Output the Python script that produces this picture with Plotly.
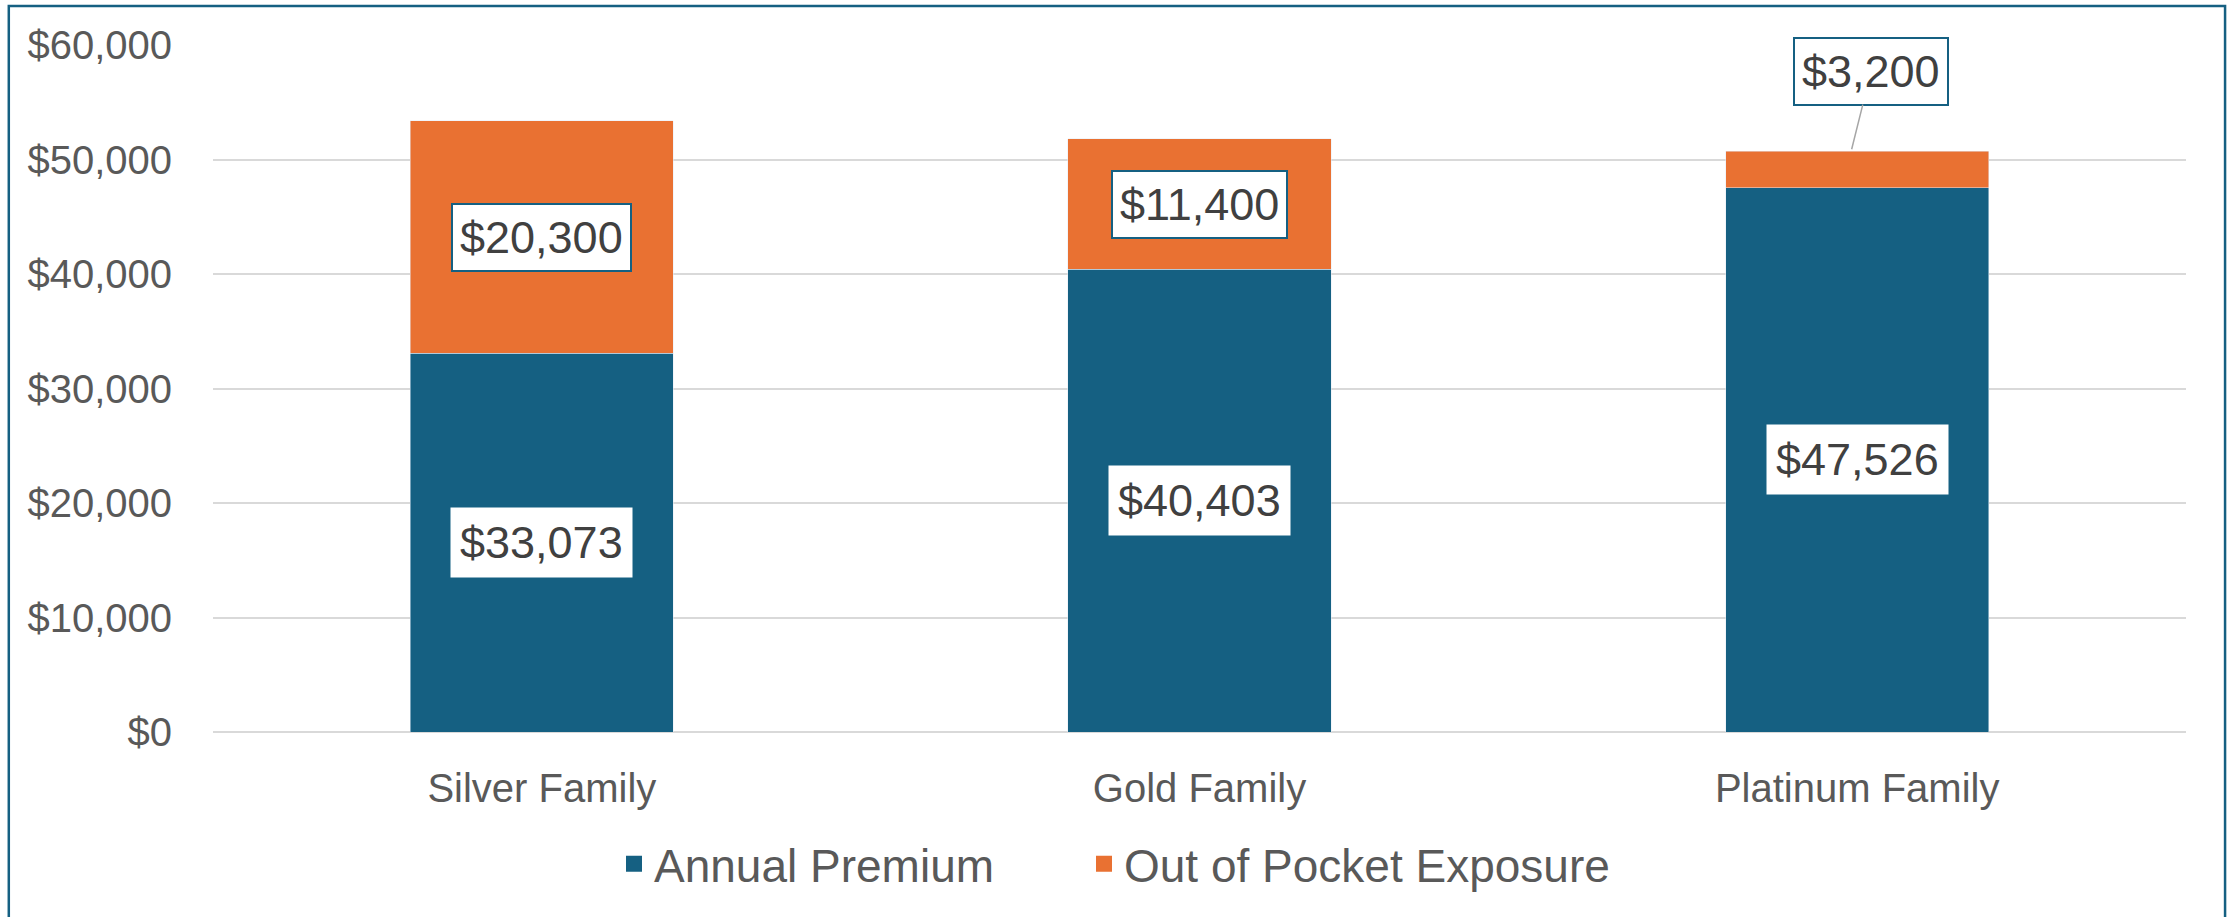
import plotly.graph_objects as go

categories = ["Silver Family", "Gold Family", "Platinum Family"]
annual_premium = [33073, 40403, 47526]
out_of_pocket = [20300, 11400, 3200]
y_ticks = [0, 10000, 20000, 30000, 40000, 50000, 60000]

BLUE = "#156082"
ORANGE = "#E97132"
GRAY = "#595959"
LABEL = "#404040"
FONT = "Liberation Sans, Arial, sans-serif"

fig = go.Figure()
fig.add_bar(x=categories, y=annual_premium, name="Annual Premium",
            marker_color=BLUE, showlegend=False)
fig.add_bar(x=categories, y=out_of_pocket, name="Out of Pocket Exposure",
            marker_color=ORANGE, showlegend=False)

# bigger square swatches for the legend
fig.add_scatter(x=[None], y=[None], mode="markers", name="Annual Premium",
                marker=dict(symbol="square", size=16, color=BLUE), legendwidth=425)
fig.add_scatter(x=[None], y=[None], mode="markers", name="Out of Pocket Exposure",
                marker=dict(symbol="square", size=16, color=ORANGE))

# data labels
for cat, prem, oop in zip(categories, annual_premium, out_of_pocket):
    fig.add_annotation(x=cat, y=prem / 2, text=f"${prem:,}", showarrow=False,
                       font=dict(size=45, color=LABEL, family=FONT),
                       bgcolor="white", borderpad=9)
    if oop > 5000:
        fig.add_annotation(x=cat, y=prem + oop / 2, text=f"${oop:,}", showarrow=False,
                           font=dict(size=45, color=LABEL, family=FONT),
                           bgcolor="white", bordercolor=BLUE, borderwidth=2, borderpad=7)
    else:
        fig.add_annotation(x=cat, y=prem + oop, text=f"${oop:,}", showarrow=True,
                           arrowhead=0, arrowwidth=1.5, arrowcolor="#A6A6A6",
                           ax=20, ay=-80, xshift=-6, standoff=2,
                           font=dict(size=45, color=LABEL, family=FONT),
                           bgcolor="white", bordercolor=BLUE, borderwidth=2, borderpad=7)

# outer chart border
fig.add_shape(type="rect", xref="paper", yref="paper",
              x0=-0.1035, x1=1.0198, y0=-0.3, y1=1.0568,
              line=dict(color=BLUE, width=2.5), fillcolor="rgba(0,0,0,0)")

fig.update_layout(
    width=2229, height=917,
    barmode="stack", bargap=0.6,
    plot_bgcolor="white", paper_bgcolor="white",
    margin=dict(l=213, r=43, t=45, b=185),
    font=dict(family=FONT, color=GRAY),
    legend=dict(orientation="h", xref="container", yref="container",
                x=0.5, xanchor="center", y=0.058, yanchor="middle",
                traceorder="normal",
                font=dict(size=46, color=GRAY), itemsizing="trace"),
)
fig.update_yaxes(range=[0, 60000], tickvals=y_ticks,
                 ticktext=[f"${v:,}" for v in y_ticks],
                 showgrid=True, gridcolor="#D9D9D9", gridwidth=1.5,
                 zeroline=True, zerolinecolor="#D9D9D9", zerolinewidth=1.5,
                 tickfont=dict(size=40, color=GRAY), ticklabelstandoff=40, fixedrange=True)
fig.update_xaxes(tickfont=dict(size=40, color=GRAY), ticklabelstandoff=29, showline=False)

fig.write_html("out.html", config={"displayModeBar": False},
               post_script="document.body.style.margin='0';")
